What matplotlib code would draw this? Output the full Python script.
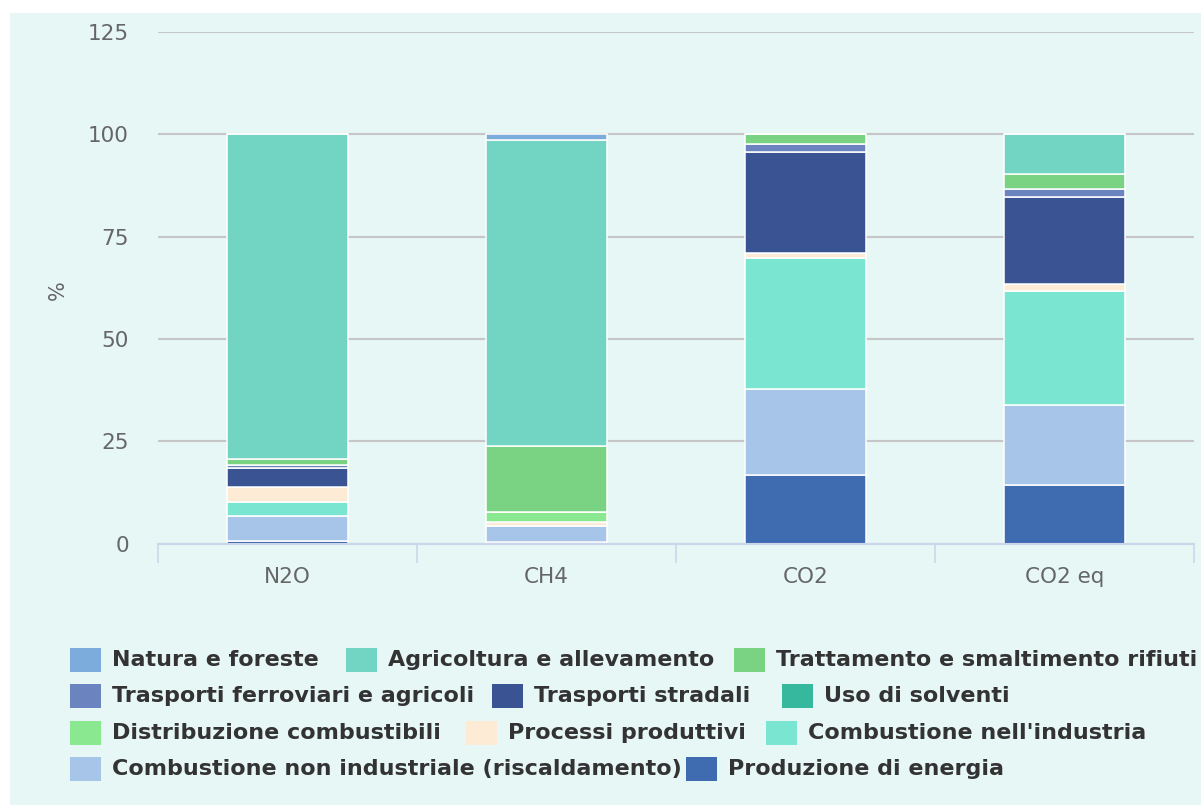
import matplotlib
matplotlib.use('Agg')
import matplotlib.pyplot as plt
from matplotlib.patches import Rectangle
import numpy as np

# ---------------- data ----------------
categories = ['N2O', 'CH4', 'CO2', 'CO2 eq']

natura         = [0.0, 1.5, 0.0, 0.0]
agricoltura    = [79.3, 74.7, 0.0, 9.8]
trattamento    = [1.4, 16.1, 2.4, 3.6]
ferroviari     = [0.9, 0.0, 2.0, 1.9]
stradali       = [4.6, 0.0, 24.5, 21.2]
solventi       = [0.0, 0.0, 0.0, 0.0]
distribuzione  = [0.0, 2.5, 0.0, 0.0]
processi       = [3.7, 1.0, 1.3, 1.9]
comb_ind       = [3.3, 0.0, 32.0, 27.7]
comb_non_ind   = [6.3, 3.8, 21.0, 19.5]
produzione     = [0.5, 0.4, 16.8, 14.4]

series_names = ['Natura e foreste', 'Agricoltura e allevamento',
                'Trattamento e smaltimento rifiuti', 'Trasporti ferroviari e agricoli',
                'Trasporti stradali', 'Uso di solventi', 'Distribuzione combustibili',
                'Processi produttivi', "Combustione nell'industria",
                'Combustione non industriale (riscaldamento)', 'Produzione di energia']
series_values = [natura, agricoltura, trattamento, ferroviari, stradali, solventi,
                 distribuzione, processi, comb_ind, comb_non_ind, produzione]
series_colors = ['#7cacdc', '#72d4c2', '#7ad283', '#6b83bf', '#3a5393', '#36b89f',
                 '#8ae891', '#fdebd5', '#7ae6d1', '#a7c5e8', '#3f6bb0']

yticks = [0, 25, 50, 75, 100, 125]

# ---------------- figure ----------------
W, H = 1201, 805
fig = plt.figure(figsize=(W / 100, H / 100), dpi=100, facecolor='white')
panel_color = '#e6f7f6'
fig.patches.append(Rectangle((10 / W, 0), 1 - 10 / W, 1 - 13 / H,
                             transform=fig.transFigure, facecolor=panel_color,
                             edgecolor='none', zorder=-10))

ax = fig.add_axes([158 / W, (H - 543.5) / H, (1194 - 158) / W, (543.5 - 32) / H])
ax.set_facecolor('none')

x = np.arange(len(categories))
bottom = np.zeros(len(categories))
# stack from bottom: last series first
for name, vals, col in reversed(list(zip(series_names, series_values, series_colors))):
    vals = np.array(vals, dtype=float)
    ax.bar(x, vals, width=0.47, bottom=bottom, color=col, edgecolor='white',
           linewidth=1.1, zorder=3)
    bottom += vals

ax.set_xlim(-0.5, len(categories) - 0.5)
ax.set_ylim(0, 125)
ax.set_yticks(yticks)
ax.set_yticklabels([str(t) for t in yticks])
ax.yaxis.grid(True, color='#c6c6c6', linewidth=1.5, zorder=0)
ax.set_axisbelow(True)

for s in ['top', 'right', 'left']:
    ax.spines[s].set_visible(False)
ax.spines['bottom'].set_color('#ccd6eb')
ax.spines['bottom'].set_linewidth(1.5)
ax.spines['bottom'].set_zorder(4)

ax.tick_params(axis='y', length=0, pad=21, labelsize=15.5, labelcolor='#666666')
ax.set_xticks(x)
ax.set_xticklabels(categories)
ax.tick_params(axis='x', which='major', length=0, pad=17, labelsize=15.5,
               labelcolor='#666666')
ax.set_xticks(np.arange(-0.5, len(categories)), minor=True)
ax.tick_params(axis='x', which='minor', length=14, width=1.2, color='#ccd6eb')

fig.text(58 / W, 1 - 290 / H, '%', rotation=90, ha='center', va='center',
         fontsize=15, color='#666666')

# ---------------- legend (manual flow, Highcharts style) ----------------
rows = [[0, 1, 2], [3, 4, 5], [6, 7, 8], [9, 10]]
row_y = [660, 696, 733, 769]
row_x = [[70, 346, 734], [70, 492, 782], [70, 466, 766], [70, 686]]
sq_w, sq_h, pad = 31, 24, 11
for r, items in enumerate(rows):
    yc = row_y[r]
    for k, idx in enumerate(items):
        sx = row_x[r][k]
        fig.patches.append(Rectangle((sx / W, 1 - (yc + sq_h / 2) / H), sq_w / W, sq_h / H,
                                     transform=fig.transFigure,
                                     facecolor=series_colors[idx], edgecolor='none'))
        fig.text((sx + sq_w + pad) / W, 1 - yc / H, series_names[idx], ha='left',
                 va='center', fontsize=16, fontweight='bold', color='#333333')

fig.savefig('out.png', dpi=100, facecolor=fig.get_facecolor())
